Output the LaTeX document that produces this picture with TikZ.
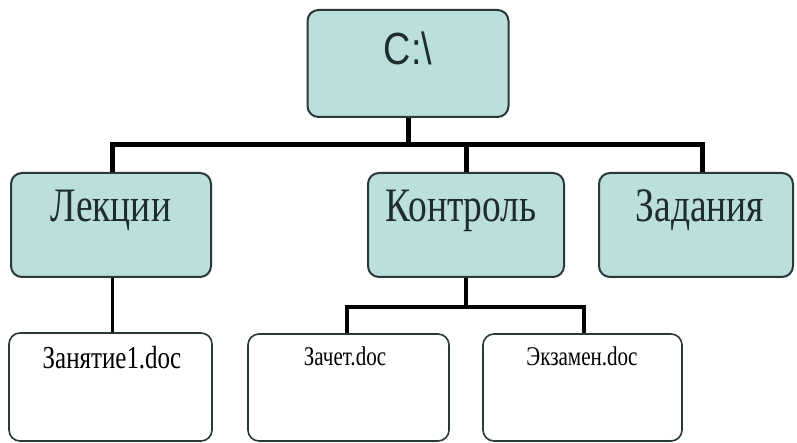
\documentclass[tikz,border=0pt]{standalone}
\usepackage{fontspec}
\setmainfont{Liberation Serif}
\newfontfamily\condf[FakeStretch=0.78]{Liberation Serif}
\newfontfamily\sansf[FakeStretch=0.84]{Liberation Sans}
\definecolor{boxfill}{HTML}{BADFDC}
\definecolor{boxline}{HTML}{2A3836}
\definecolor{txt}{HTML}{1E2C2C}
\tikzset{
  tealbox/.style={draw=boxline, line width=2pt, fill=boxfill, rounded corners=11pt, inner sep=0pt},
  whitebox/.style={draw=boxline, line width=1.6pt, fill=white, rounded corners=11pt, inner sep=0pt},
  toplabel/.style={anchor=base, inner sep=0pt, text=txt, font=\condf\fontsize{48}{50}\selectfont},
  rootlabel/.style={anchor=base, inner sep=0pt, text=txt, font=\sansf\fontsize{45}{47}\selectfont},
  filelabel/.style={anchor=base, inner sep=0pt, text=black, font=\condf\fontsize{27}{29}\selectfont},
  busline/.style={line width=5pt, black},
  subline/.style={line width=4pt, black},
  thinline/.style={line width=3pt, black}
}
\begin{document}
\begin{tikzpicture}[x=1pt,y=-1pt]
\path[use as bounding box] (0,0) rectangle (797,443);
% boxes
\node[tealbox, minimum width=201pt, minimum height=107pt] (root) at (408,63.5) {};
\node[tealbox, minimum width=200pt, minimum height=104pt] (lek) at (111,225) {};
\node[tealbox, minimum width=196pt, minimum height=104pt] (kon) at (466,225) {};
\node[tealbox, minimum width=194pt, minimum height=104pt] (zad) at (696,225) {};
\node[whitebox, minimum width=203pt, minimum height=108pt] (zan) at (110.5,387) {};
\node[whitebox, minimum width=201pt, minimum height=107pt] (zach) at (348.5,387.5) {};
\node[whitebox, minimum width=199pt, minimum height=107pt] (ekz) at (582.5,387.5) {};
% labels
\node[rootlabel] (rootT) at (408,65) {C:\textbackslash};
\node[toplabel] (lekT) at (111,222) {Лекции};
\node[toplabel] (konT) at (461,222) {Контроль};
\node[toplabel] (zadT) at (700,222) {Задания};
\node[filelabel, font=\condf\fontsize{32}{34}\selectfont] (zanT) at (112,368) {Занятие1.doc};
\node[filelabel] (zachT) at (345,365) {Зачет.doc};
\node[filelabel] (ekzT) at (582,365) {Экзамен.doc};
% connectors
\coordinate (busL) at (112,145);
\coordinate (busR) at (702,145);
\coordinate (subL) at (347,307);
\coordinate (subR) at (584,307);
\draw[busline] (root.south) -- (root.south |- busL);
\draw[busline] (busL |- lek.north) -- (busL) -- (busR) -- (busR |- zad.north);
\draw[busline] (kon.north) -- (kon.north |- busL);
\draw[subline] (kon.south) -- (kon.south |- subL);
\draw[subline] (subL |- zach.north) -- (subL) -- (subR) -- (subR |- ekz.north);
\draw[thinline] (busL |- lek.south) -- (busL |- zan.north);
\end{tikzpicture}
\end{document}
